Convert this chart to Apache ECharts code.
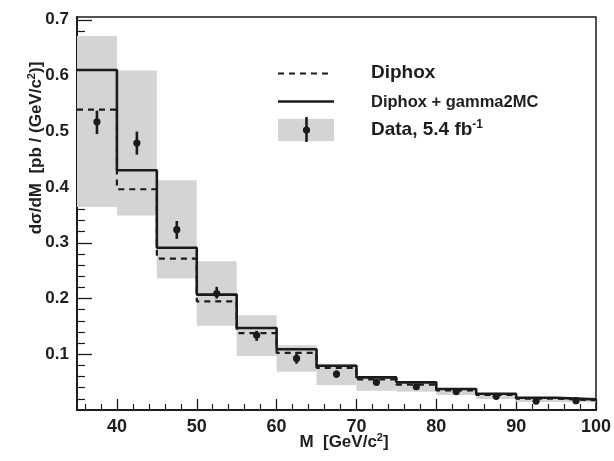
<!DOCTYPE html>
<html><head><meta charset="utf-8">
<script src="https://cdn.jsdelivr.net/npm/echarts@6/dist/echarts.min.js"></script>
<style>html,body{margin:0;padding:0;background:#fff}#c{width:614px;height:461px}</style>
</head><body><div id="c"></div>
<script>
// bin edges in M [GeV/c^2]
const binEdges = [35,40,45,50,55,60,65,70,75,80,85,90,95,100];
// Diphox (dashed)
const diphox = [0.539,0.396,0.2715,0.195,0.138,0.1025,0.0757,0.055,0.0455,0.035,0.027,0.0205,0.0175];
// Diphox + gamma2MC (solid)
const diphoxG2MC = [0.610,0.430,0.291,0.207,0.147,0.109,0.0795,0.0585,0.0496,0.0376,0.0292,0.022,0.019];
// Data points and statistical errors
const dataValue = [0.517,0.479,0.3235,0.209,0.134,0.0925,0.0645,0.0496,0.0417,0.033,0.0245,0.016,0.0167];
const statLow  = [0.495,0.458,0.307,0.200,0.124,0.083,0.058,0.045,0.038,0.030,0.022,0.014,0.015];
const statHigh = [0.537,0.4995,0.339,0.221,0.142,0.104,0.071,0.054,0.045,0.036,0.027,0.018,0.018];
// Data total uncertainty band (grey)
const bandLow  = [0.364,0.349,0.2357,0.151,0.097,0.0686,0.0448,0.0346,0.0328,0.0268,0.0197,0.0143,0.014];
const bandHigh = [0.671,0.609,0.412,0.267,0.170,0.116,0.083,0.061,0.051,0.039,0.030,0.022,0.020];
// tick values
const xMajorTicks = [40,50,60,70,80,90,100];
const yMajorTicks = [0.1,0.2,0.3,0.4,0.5,0.6,0.7];
const xMinorTicks = [36,38,42,44,46,48,52,54,56,58,62,64,66,68,72,74,76,78,82,84,86,88,92,94,96,98];
const yMinorTicks = [0.02,0.04,0.06,0.08,0.12,0.14,0.16,0.18,0.22,0.24,0.26,0.28,0.32,0.34,0.36,0.38,0.42,0.44,0.46,0.48,0.52,0.54,0.56,0.58,0.62,0.64,0.66,0.68];

const INK = '#1b1b1b';
const TXT = '#1e1e1e';
const GREY = '#d3d4d6';
const FONT = '"Liberation Sans", Arial, Helvetica, sans-serif';

function stepData(vals){
  const d = vals.map((v,i)=>[binEdges[i], v]);
  d.push([binEdges[binEdges.length-1], vals[vals.length-1]]);
  return d;
}
const bandData = bandLow.map((lo,i)=>[binEdges[i], binEdges[i+1], lo, bandHigh[i]]);
const pointData = dataValue.map((v,i)=>[(binEdges[i]+binEdges[i+1])/2, v, statLow[i], statHigh[i]]);

const chart = echarts.init(document.getElementById('c'), null, {renderer:'canvas'});
const axisBase = {type:'value', splitLine:{show:false}};
chart.setOption({
  animation:false,
  backgroundColor:'#fff',
  grid:{left:77, right:14, top:17, bottom:51, show:true, borderColor:INK, borderWidth:1.5, backgroundColor:'transparent'},
  xAxis:[
    Object.assign({}, axisBase, {min:35, max:100, position:'bottom',
      axisLine:{show:true, lineStyle:{color:INK, width:2}},
      axisTick:{show:true, inside:true, length:11, customValues:xMajorTicks, lineStyle:{color:INK, width:1.3}},
      axisLabel:{show:true, customValues:xMajorTicks, margin:8, color:TXT, fontFamily:FONT, fontWeight:'bold', fontSize:18}}),
    Object.assign({}, axisBase, {min:35, max:100, position:'bottom',
      axisLine:{show:false},
      axisTick:{show:true, inside:true, length:6, customValues:xMinorTicks, lineStyle:{color:INK, width:1.2}},
      axisLabel:{show:false}})
  ],
  yAxis:[
    Object.assign({}, axisBase, {min:0, max:0.705, position:'left',
      axisLine:{show:true, lineStyle:{color:INK, width:2}},
      axisTick:{show:true, inside:true, length:15, customValues:yMajorTicks, lineStyle:{color:INK, width:1.3}},
      axisLabel:{show:true, customValues:yMajorTicks, margin:8, color:TXT, fontFamily:FONT, fontWeight:'bold', fontSize:17,
        formatter:v=>v.toFixed(1)}}),
    Object.assign({}, axisBase, {min:0, max:0.705, position:'left',
      axisLine:{show:false},
      axisTick:{show:true, inside:true, length:8, customValues:yMinorTicks, lineStyle:{color:INK, width:1.2}},
      axisLabel:{show:false}})
  ],
  series:[
    {type:'custom', name:'band', z:1, data:bandData, renderItem:(params, api)=>{
      const p1 = api.coord([api.value(0), api.value(3)]);
      const p2 = api.coord([api.value(1), api.value(2)]);
      return {type:'rect', shape:{x:p1[0], y:p1[1], width:p2[0]-p1[0], height:p2[1]-p1[1]}, style:{fill:GREY}};
    }},
    {type:'line', name:'Diphox', z:3, step:'end', data:stepData(diphox), symbol:'none',
      lineStyle:{color:INK, width:2.2, type:[6,5]}},
    {type:'line', name:'Diphox + gamma2MC', z:4, step:'end', data:stepData(diphoxG2MC), symbol:'none',
      lineStyle:{color:INK, width:2.6}},
    {type:'custom', name:'Data', z:5, data:pointData, renderItem:(params, api)=>{
      const c = api.coord([api.value(0), api.value(1)]);
      const lo = api.coord([api.value(0), api.value(2)]);
      const hi = api.coord([api.value(0), api.value(3)]);
      return {type:'group', children:[
        {type:'line', shape:{x1:lo[0], y1:lo[1], x2:hi[0], y2:hi[1]}, style:{stroke:INK, lineWidth:2.6}},
        {type:'circle', shape:{cx:c[0], cy:c[1], r:3.6}, style:{fill:INK}}
      ]};
    }}
  ],
  graphic:[
    {type:'text', x:344, y:442, style:{text:'M  [GeV/c{s|2}]', align:'center', verticalAlign:'middle',
      font:'bold 17px '+FONT, fill:TXT, rich:{s:{fontSize:11, fontWeight:'bold', fontFamily:FONT, padding:[0,0,8,0], fill:TXT}}}},
    {type:'text', x:36, y:148, rotation:Math.PI/2, style:{text:'dσ/dM  [pb / (GeV/c{s|2})]', align:'center', verticalAlign:'middle',
      font:'bold 17px '+FONT, fill:TXT, rich:{s:{fontSize:11, fontWeight:'bold', fontFamily:FONT, padding:[0,0,8,0], fill:TXT}}}},
    // legend
    {type:'line', shape:{x1:278, y1:73.5, x2:331, y2:73.5}, style:{stroke:INK, lineWidth:2.2, lineDash:[6,5]}},
    {type:'line', shape:{x1:278, y1:101.5, x2:334, y2:101.5}, style:{stroke:INK, lineWidth:2.6}},
    {type:'rect', shape:{x:278, y:119, width:56, height:22}, style:{fill:GREY}},
    {type:'line', shape:{x1:306.5, y1:117, x2:306.5, y2:142}, style:{stroke:INK, lineWidth:2.6}},
    {type:'circle', shape:{cx:306.5, cy:130, r:3.6}, style:{fill:INK}},
    {type:'text', x:371, y:73, style:{text:'Diphox', verticalAlign:'middle', font:'bold 19px '+FONT, fill:TXT}},
    {type:'text', x:371, y:102, style:{text:'Diphox + gamma2MC', verticalAlign:'middle', font:'bold 16.5px '+FONT, fill:TXT}},
    {type:'text', x:371, y:130, style:{text:'Data, 5.4 fb{s|-1}', verticalAlign:'middle', font:'bold 19px '+FONT, fill:TXT,
      rich:{s:{fontSize:12, fontWeight:'bold', fontFamily:FONT, padding:[0,0,10,0], fill:TXT}}}}
  ]
});
</script></body></html>
